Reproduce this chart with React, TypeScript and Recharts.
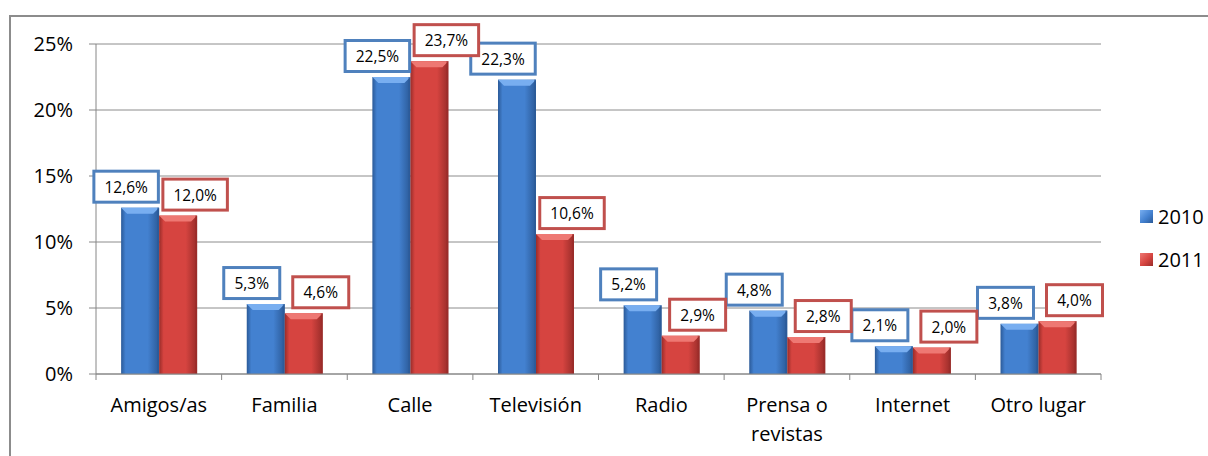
import React from "react";
import { BarChart, Bar, XAxis, YAxis, CartesianGrid, LabelList } from "recharts";

const categories = ["Amigos/as", "Familia", "Calle", "Televisión", "Radio", "Prensa o revistas", "Internet", "Otro lugar"];
const values2010 = [12.6, 5.3, 22.5, 22.3, 5.2, 4.8, 2.1, 3.8];
const values2011 = [12.0, 4.6, 23.7, 10.6, 2.9, 2.8, 2.0, 4.0];
const yTicks = [0, 5, 10, 15, 20, 25];
const seriesNames = ["2010", "2011"];

const W = 1208;
const H = 456;
const M = { top: 44, right: 107, bottom: 0, left: 10 };
const Y_W = 86;
const X_H = 82;
const PLOT_BOTTOM = H - M.bottom - X_H;
const BAND = (W - M.left - Y_W - M.right) / categories.length;
const FONT = "'Open Sans', Lato, sans-serif";

const COLORS = {
  "2010": { main: "#4381d0", dark: "#2b5a98", light: "#78aef0", border: "#4f81bd", off: -14 },
  "2011": { main: "#d64440", dark: "#992c29", light: "#ee7873", border: "#c0504d", off: 17 },
};

const data = categories.map((c, i) => ({ name: c, "2010": values2010[i], "2011": values2011[i] }));

const fmt = (v: number) => v.toFixed(1).replace(".", ",") + "%";

function BevelBar(props: any) {
  const { x, y, width, height, series } = props;
  if (!height || height <= 0) return null;
  const c = COLORS[series as "2010" | "2011"];
  const b = Math.min(6, height / 2);
  return (
    <g>
      <rect x={x} y={y} width={width} height={height} fill={`url(#grad${series})`} />
      <polygon
        points={`${x},${y} ${x + width},${y} ${x + width - b},${y + b} ${x + b},${y + b}`}
        fill={c.light}
      />
      <rect x={x + width - 2} y={y} width={2} height={height} fill={c.dark} opacity={0.6} />
    </g>
  );
}

function makeLabel(series: "2010" | "2011") {
  return function BoxLabel(props: any) {
    const { x, y, width, value } = props;
    const c = COLORS[series];
    const text = fmt(value);
    const bw = 22 + 8.5 * text.length;
    const bh = 31;
    const cx = x + width / 2 + c.off;
    const cy = y - 21;
    return (
      <g>
        <rect x={cx - bw / 2} y={cy - bh / 2} width={bw} height={bh} fill="#fff" stroke={c.border} strokeWidth={3} />
        <text x={cx} y={cy} textAnchor="middle" dominantBaseline="central" fontSize={15.5} fontFamily={FONT} fill="#000">
          {text}
        </text>
      </g>
    );
  };
}

function CatTick(props: any) {
  const { x, payload, index } = props;
  const label: string = payload.value;
  const lines = label === "Prensa o revistas" ? ["Prensa o", "revistas"] : [label];
  return (
    <g>
      <line x1={x - BAND / 2} x2={x - BAND / 2} y1={PLOT_BOTTOM} y2={PLOT_BOTTOM + 6} stroke="#868686" />
      {index === categories.length - 1 && (
        <line x1={x + BAND / 2} x2={x + BAND / 2} y1={PLOT_BOTTOM} y2={PLOT_BOTTOM + 6} stroke="#868686" />
      )}
      <text textAnchor="middle" fontSize={20} fontFamily={FONT} fill="#000">
        {lines.map((l, i) => (
          <tspan key={i} x={x} y={PLOT_BOTTOM + 38 + i * 29}>
            {l}
          </tspan>
        ))}
      </text>
    </g>
  );
}

function LegendBox() {
  return (
    <div style={{ position: "absolute", left: 1140, top: 195, fontFamily: FONT, fontSize: 20, color: "#000" }}>
      {seriesNames.map((s) => {
        const c = COLORS[s as "2010" | "2011"];
        return (
          <div key={s} style={{ display: "flex", alignItems: "center", height: 43 }}>
            <span
              style={{
                display: "inline-block",
                width: 13,
                height: 13,
                marginRight: 5,
                background: `linear-gradient(135deg, ${c.light}, ${c.main} 55%, ${c.dark})`,
              }}
            />
            {s}
          </div>
        );
      })}
    </div>
  );
}

export default function App() {
  return (
    <div style={{ position: "absolute", left: 0, top: 0, width: W, height: H, background: "#fff", overflow: "hidden" }}>
      <div style={{ position: "absolute", left: 9, top: 15, right: -4, bottom: -4, borderLeft: "2px solid #8c8c8c", borderTop: "2px solid #8c8c8c" }} />
      <BarChart
        width={W}
        height={H}
        data={data}
        margin={M}
        barCategoryGap="20%"
        barGap={0}
        style={{ position: "absolute", left: 0, top: 0 }}
      >
        <defs>
          {seriesNames.map((s) => {
            const c = COLORS[s as "2010" | "2011"];
            return (
              <linearGradient key={s} id={`grad${s}`} x1="0" y1="0" x2="1" y2="0">
                <stop offset="0%" stopColor={c.dark} />
                <stop offset="12%" stopColor={c.main} />
                <stop offset="70%" stopColor={c.main} />
                <stop offset="100%" stopColor={c.dark} />
              </linearGradient>
            );
          })}
        </defs>
        <CartesianGrid vertical={false} stroke="#8c8c8c" />
        <XAxis
          dataKey="name"
          height={X_H}
          interval={0}
          tickLine={false}
          axisLine={{ stroke: "#868686" }}
          tick={<CatTick />}
        />
        <YAxis
          width={Y_W}
          domain={[0, 25]}
          ticks={yTicks}
          tickFormatter={(v: number) => `${v}%`}
          tickSize={7}
          tickMargin={16}
          tickLine={{ stroke: "#868686" }}
          axisLine={{ stroke: "#868686" }}
          tick={{ fontSize: 20, fontFamily: FONT, fill: "#000" }}
        />
        {seriesNames.map((s) => (
          <Bar
            key={s}
            dataKey={s}
            isAnimationActive={false}
            fill={COLORS[s as "2010" | "2011"].main}
            shape={(p: any) => <BevelBar {...p} series={s} />}
          >
            <LabelList dataKey={s} content={makeLabel(s as "2010" | "2011")} />
          </Bar>
        ))}
      </BarChart>
      <LegendBox />
    </div>
  );
}
